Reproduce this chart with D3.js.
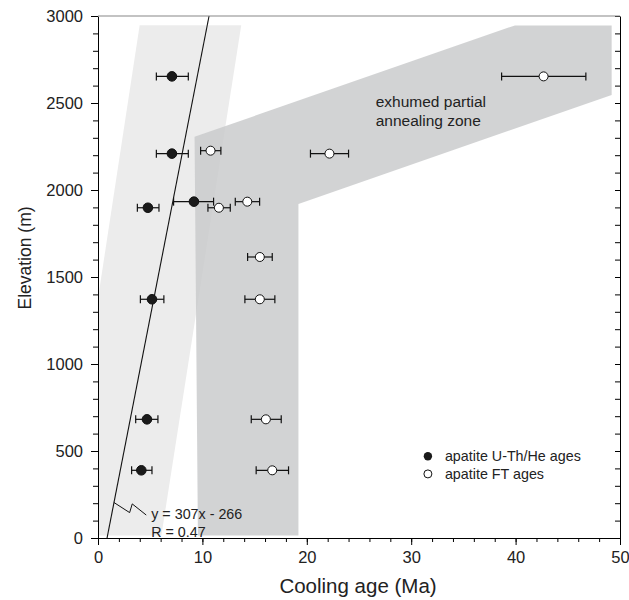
<!DOCTYPE html>
<html>
<head>
<meta charset="utf-8">
<script src="https://cdn.jsdelivr.net/npm/d3@7"></script>
<style>
  body { margin: 0; background: #fff; }
  text { font-family: "Liberation Sans", Arial, Helvetica, sans-serif; fill: #222; }
</style>
</head>
<body>
<div id="chart"></div>
<script>
// apatite U-Th/He ages (filled)
const heElev = [2653, 2209, 1933, 1898, 1372, 682, 389];
const heAge  = [7.08, 7.08, 9.19, 4.78, 5.17, 4.69, 4.15];
const heLo   = [5.59, 5.59, 7.24, 3.77, 4.06, 3.61, 3.22];
const heHi   = [8.65, 8.65, 11.07, 5.84, 6.31, 5.74, 5.17];

// apatite FT ages (open)
const ftElev = [2653, 2226, 2209, 1933, 1898, 1615, 1372, 682, 389];
const ftAge  = [42.68, 10.78, 22.17, 14.3, 11.58, 15.5, 15.5, 16.08, 16.69];
const ftLo   = [38.66, 9.83, 20.35, 13.15, 10.53, 14.33, 14.07, 14.68, 15.15];
const ftHi   = [46.73, 11.77, 24.0, 15.48, 12.67, 16.69, 16.94, 17.55, 18.25];

// shaded zones, [age, elevation]
const lightZone = [[3.99, 2947], [13.72, 2947], [6.07, 15], [-3.46, 15]];
const paz = [[9.25, 2306], [39.94, 2946], [49.2, 2946], [49.2, 2546], [19.2, 1920], [19.2, 15], [9.57, 15]];

// regression y = 307x - 266
const slope = 307, intercept = -266;
const leader = [[1.53, 204], [3.03, 146], [3.28, 196], [4.62, 132]];

const xTicks = [0, 10, 20, 30, 40, 50];
const yTicks = [0, 500, 1000, 1500, 2000, 2500, 3000];

const margin = {top: 16, right: 9, bottom: 62, left: 98},
      width = 522, height = 522;

const svg = d3.select("#chart").append("svg")
    .attr("width", 629).attr("height", 600);
const g = svg.append("g").attr("transform", `translate(${margin.left},${margin.top})`);

const x = d3.scaleLinear().domain([0, 50]).range([0, width]);
const y = d3.scaleLinear().domain([0, 3000]).range([height, 0]);

g.append("clipPath").attr("id", "clip")
  .append("rect").attr("width", width).attr("height", height);
const plot = g.append("g").attr("clip-path", "url(#clip)");

const area = d3.line().x(d => x(d[0])).y(d => y(d[1]));

plot.append("path").datum(lightZone)
    .attr("d", d => area(d) + "Z")
    .attr("fill", "#ececec");

plot.append("path").datum(paz)
    .attr("d", d => area(d) + "Z")
    .attr("fill", "rgb(200,201,203)")
    .attr("fill-opacity", 0.82);

// regression line
plot.append("line")
    .attr("x1", x((0 - intercept) / slope)).attr("y1", y(0))
    .attr("x2", x((3000 - intercept) / slope)).attr("y2", y(3000))
    .attr("stroke", "#111").attr("stroke-width", 1.1);

g.append("path").datum(leader)
    .attr("d", area).attr("fill", "none")
    .attr("stroke", "#111").attr("stroke-width", 1);

g.append("text").attr("x", x(5.1)).attr("y", y(132) + 4)
    .style("font-size", "14.3px").text("y = 307x - 266");
g.append("text").attr("x", x(5.1)).attr("y", y(30) + 4)
    .style("font-size", "14.3px").text("R = 0.47");

g.append("text").attr("x", x(26.6)).attr("y", y(2475))
    .style("font-size", "15.5px").text("exhumed partial");
g.append("text").attr("x", x(26.6)).attr("y", y(2367))
    .style("font-size", "15.5px").text("annealing zone");

// error bars + points
function drawSeries(elev, age, lo, hi, filled) {
  const rows = elev.map((e, i) => ({e, a: age[i], lo: lo[i], hi: hi[i]}));
  const s = g.append("g");
  s.selectAll(".bar").data(rows).enter().append("line")
    .attr("x1", d => x(d.lo)).attr("x2", d => x(d.hi))
    .attr("y1", d => y(d.e)).attr("y2", d => y(d.e))
    .attr("stroke", "#111").attr("stroke-width", 1.2);
  ["lo", "hi"].forEach(k => {
    s.selectAll(".cap-" + k).data(rows).enter().append("line")
      .attr("x1", d => x(d[k])).attr("x2", d => x(d[k]))
      .attr("y1", d => y(d.e) - 4).attr("y2", d => y(d.e) + 4)
      .attr("stroke", "#111").attr("stroke-width", 1.2);
  });
  s.selectAll("circle").data(rows).enter().append("circle")
    .attr("cx", d => x(d.a)).attr("cy", d => y(d.e))
    .attr("r", filled ? 4.8 : 4.5)
    .attr("fill", filled ? "#1a1a1a" : "#fff")
    .attr("stroke", "#111").attr("stroke-width", 1);
}
drawSeries(heElev, heAge, heLo, heHi, true);
drawSeries(ftElev, ftAge, ftLo, ftHi, false);

// legend
const legend = g.append("g").attr("transform", `translate(${x(31.6)},${y(470)})`);
legend.append("circle").attr("cx", 0).attr("cy", 0).attr("r", 4.2).attr("fill", "#1a1a1a");
legend.append("circle").attr("cx", 0).attr("cy", 17.7).attr("r", 4)
    .attr("fill", "#fff").attr("stroke", "#111");
legend.append("text").attr("x", 17).attr("y", 5).style("font-size", "14.3px").text("apatite U-Th/He ages");
legend.append("text").attr("x", 17).attr("y", 22.5).style("font-size", "14.3px").text("apatite FT ages");

// axes
const axisFont = "16.5px";
g.append("g").attr("transform", `translate(0,${height})`)
  .call(d3.axisBottom(x).tickValues(d3.range(0, 51, 2)).tickSize(4).tickFormat(""))
  .call(a => a.select(".domain").remove());
g.append("g").attr("transform", `translate(0,${height})`)
  .call(d3.axisBottom(x).tickValues(xTicks).tickSize(7).tickSizeOuter(0).tickPadding(6))
  .call(a => a.selectAll("text").style("font-size", axisFont));

g.append("g")
  .call(d3.axisLeft(y).tickValues(d3.range(0, 3001, 100)).tickSize(5).tickFormat(""))
  .call(a => a.select(".domain").remove());
g.append("g")
  .call(d3.axisLeft(y).tickValues(yTicks).tickSize(7).tickSizeOuter(0).tickPadding(8)
    .tickFormat(d3.format("d")))
  .call(a => a.selectAll("text").style("font-size", axisFont));

g.append("g").attr("transform", `translate(${width},0)`)
  .call(d3.axisRight(y).tickValues(d3.range(0, 3001, 100)).tickSize(-5).tickSizeOuter(0).tickFormat(""));

g.append("line").attr("x1", 0).attr("x2", width).attr("y1", 0).attr("y2", 0)
  .attr("stroke", "#888").attr("stroke-width", 1.2);

g.append("text")
  .attr("x", width / 2 - 1).attr("y", height + 55)
  .attr("text-anchor", "middle").style("font-size", "20.5px")
  .text("Cooling age (Ma)");

g.append("text")
  .attr("transform", "rotate(-90)")
  .attr("x", -(258 - margin.top)).attr("y", -67)
  .attr("text-anchor", "middle").style("font-size", "17.5px")
  .text("Elevation (m)");
</script>
</body>
</html>
